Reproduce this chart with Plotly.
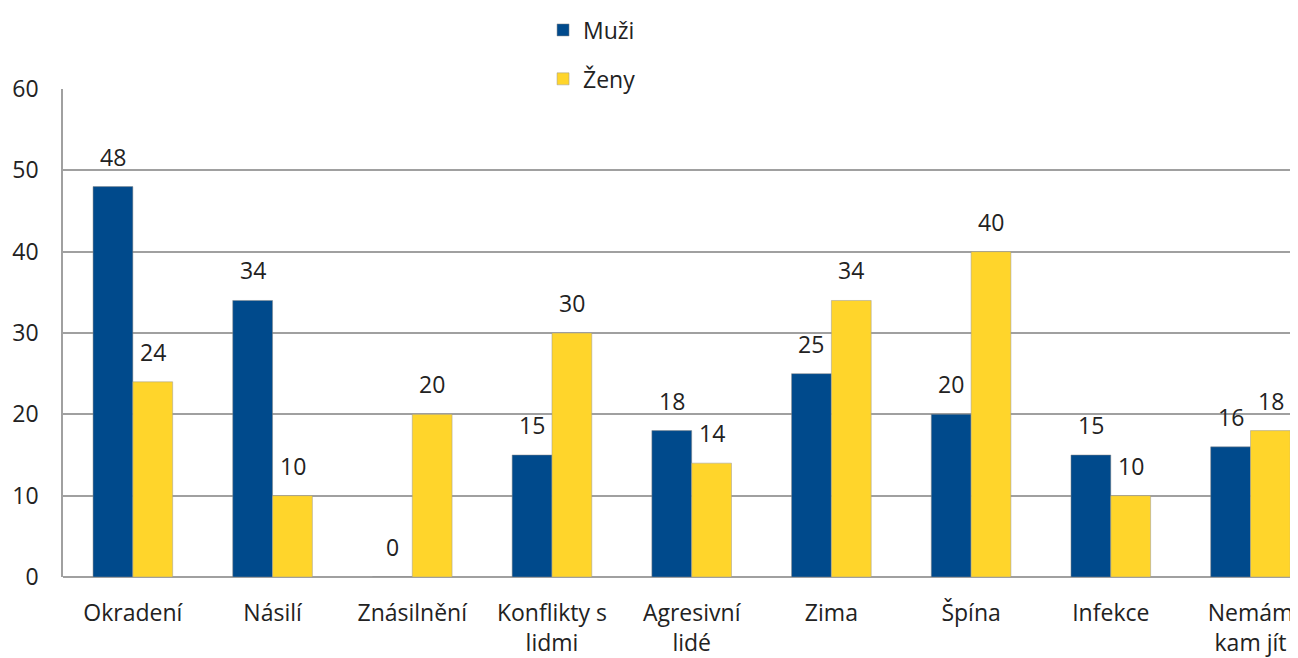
import plotly.graph_objects as go

categories = ["Okradení", "Násilí", "Znásilnění", "Konflikty s<br>lidmi", "Agresivní<br>lidé",
              "Zima", "Špína", "Infekce", "Nemám<br>kam jít"]
muzi = [48, 34, 0, 15, 18, 25, 20, 15, 16]
zeny = [24, 10, 20, 30, 14, 34, 40, 10, 18]
y_ticks = [0, 10, 20, 30, 40, 50, 60]

BLUE = "#004A8C"
YELLOW = "#FFD52B"
FONT = "Open Sans"
TXT = "#222222"
FS = 23

fig = go.Figure()
fig.add_trace(go.Bar(name="Muži", x=categories, y=muzi, marker=dict(color=BLUE, line=dict(width=0.5, color="#888")),
                     legendgroup="m"))
fig.add_trace(go.Bar(name="Ženy", x=categories, y=zeny, marker=dict(color=YELLOW, line=dict(width=0.5, color="#999")),
                     legendgroup="z"))

ann = []
for i, c in enumerate(categories):
    for vals, shift in ((muzi, -20), (zeny, 20)):
        ann.append(dict(x=c, y=vals[i], text=str(vals[i]), showarrow=False, xshift=shift,
                        yanchor="bottom", yshift=12, font=dict(size=FS, color=TXT, family=FONT)))

fig.update_layout(
    width=1290, height=650,
    margin=dict(l=55, r=0, t=81, b=81, autoexpand=False),
    paper_bgcolor="white", plot_bgcolor="white",
    barmode="group", bargap=0.43, bargroupgap=0,
    font=dict(family=FONT, size=FS, color=TXT),
    annotations=ann,
    showlegend=True,
    legend=dict(x=0.3887, y=1.165, xanchor="left", yanchor="top", orientation="v",
                tracegroupgap=16, itemwidth=30, font=dict(size=FS, family=FONT, color=TXT),
                bgcolor="rgba(0,0,0,0)"),
    xaxis=dict(range=[-0.5, 8.34], showline=False, showgrid=False, ticks="", automargin=False,
               tickfont=dict(size=FS, family=FONT, color=TXT), ticklabelstandoff=20),
    yaxis=dict(range=[0, 60], tickvals=y_ticks, showgrid=True, gridcolor="#A0A0A0", gridwidth=1.5,
               showline=True, linecolor="#A0A0A0", linewidth=1.5, zeroline=True, zerolinecolor="#A0A0A0",
               zerolinewidth=1.5, ticks="", automargin=False, tickfont=dict(size=FS, family=FONT, color=TXT),
               ticklabelstandoff=18),
)

fig.write_html("out.html")
